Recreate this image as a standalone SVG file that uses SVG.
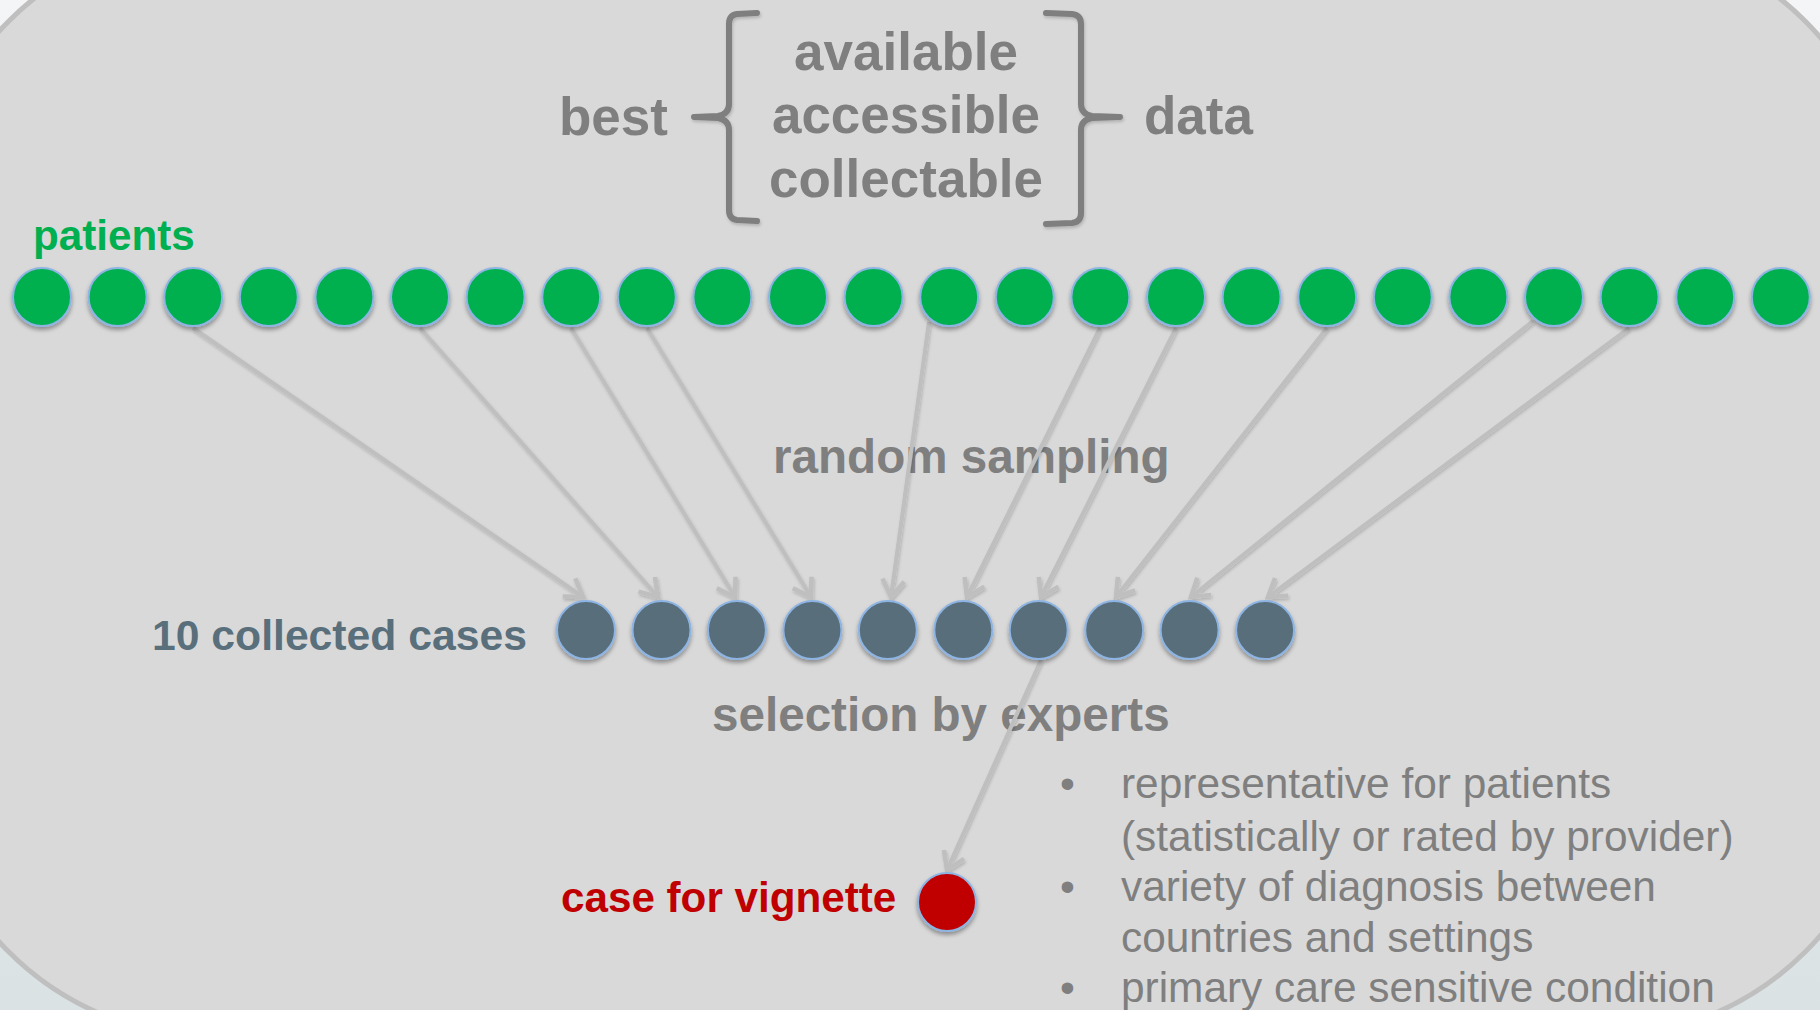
<svg xmlns="http://www.w3.org/2000/svg" width="1820" height="1010" viewBox="0 0 1820 1010">
  <defs>
    <linearGradient id="page" x1="0" y1="0" x2="0" y2="1">
      <stop offset="0" stop-color="#f4f5f6"/>
      <stop offset="1" stop-color="#dae2e4"/>
    </linearGradient>
    <filter id="shadow" x="-30%" y="-30%" width="160%" height="170%">
      <feDropShadow dx="0" dy="3" stdDeviation="2" flood-color="#000" flood-opacity="0.35"/>
    </filter>
    <filter id="soft" x="-10%" y="-10%" width="120%" height="130%">
      <feDropShadow dx="1" dy="2" stdDeviation="1.5" flood-color="#000" flood-opacity="0.18"/>
    </filter>
    <marker id="arrow" markerUnits="userSpaceOnUse" markerWidth="30" markerHeight="30" viewBox="0 0 30 30" refX="26" refY="15" orient="auto">
      <path d="M9,4 L26,15 L9,26" fill="none" stroke="#bfbfbf" stroke-width="4.5" stroke-linejoin="miter"/>
    </marker>
    <style>
      .lbl { font-family: "Liberation Sans", Arial, sans-serif; font-weight: bold; }
      .gray { fill: #7f7f7f; }
      .body { font-family: "Liberation Sans", Arial, sans-serif; font-size: 42.4px; fill: #7f7f7f; }
      .patient { fill: #00b050; stroke: #8db4e2; stroke-width: 2; }
      .case { fill: #586e7a; stroke: #8db4e2; stroke-width: 2; }
      .vignette { fill: #c00000; stroke: #8db4e2; stroke-width: 2; }
      .brace { fill: none; stroke: #7f7f7f; stroke-width: 6; stroke-linecap: round; stroke-linejoin: round; }
      .link { fill: none; stroke: #bfbfbf; stroke-width: 4; marker-end: url(#arrow); }
    </style>
  </defs>

  <!-- page and rounded panel -->
  <rect x="0" y="0" width="1820" height="1010" fill="url(#page)"/>
  <rect x="-76" y="-64" width="1966" height="1101" rx="290" ry="290" fill="#d9d9d9" stroke="#bfbfbf" stroke-width="5"/>

  <!-- heading: best {available / accessible / collectable} data -->
  <g id="heading" class="lbl gray" font-size="53">
    <text x="559" y="135">best</text>
    <text x="906" y="70" text-anchor="middle">available</text>
    <text x="906" y="133" text-anchor="middle">accessible</text>
    <text x="906" y="197" text-anchor="middle">collectable</text>
    <text x="1144" y="134">data</text>
  </g>
  <g id="braces" filter="url(#soft)">
    <path class="brace" d="M757,13 L737,14 Q729,15 729,24 L729,104 Q729,114 718,116 L694,117 L718,118 Q729,120 729,130 L729,210 Q729,219 737,220 L757,221"/>
    <path class="brace" d="M1046,13 L1072,14 Q1081,15 1081,24 L1081,104 Q1081,114 1092,116 L1120,117 L1092,118 Q1081,120 1081,130 L1081,213 Q1081,222 1072,223 L1046,224"/>
  </g>

  <!-- row labels -->
  <text id="label-patients" class="lbl" x="33" y="250" font-size="42.2" fill="#00b050">patients</text>
  <text id="label-cases" class="lbl" x="152" y="650" font-size="42.7" fill="#5a6f7c">10 collected cases</text>
  <text id="label-sampling" class="lbl gray" x="773" y="473" font-size="47.6">random sampling</text>
  <text id="label-selection" class="lbl gray" x="712" y="731" font-size="47.6">selection by experts</text>
  <text id="label-vignette" class="lbl" x="561" y="912" font-size="42.2" fill="#c00000">case for vignette</text>

  <!-- selection criteria -->
  <g id="criteria" class="body">
    <text x="1060" y="798">•</text>
    <text x="1121" y="798">representative for patients</text>
    <text x="1121" y="851">(statistically or rated by provider)</text>
    <text x="1060" y="901">•</text>
    <text x="1121" y="901">variety of diagnosis between</text>
    <text x="1121" y="952">countries and settings</text>
    <text x="1060" y="1002">•</text>
    <text x="1121" y="1002">primary care sensitive condition</text>
  </g>

  <!-- connectors: sampled patients to collected cases, one case to the vignette -->
  <g id="connectors" filter="url(#soft)">
    <line class="link" x1="193" y1="328" x2="583" y2="597"/>
    <line class="link" x1="420" y1="328" x2="658" y2="597"/>
    <line class="link" x1="571" y1="328" x2="735" y2="597"/>
    <line class="link" x1="647" y1="328" x2="811" y2="597"/>
    <line class="link" x1="929" y1="322" x2="891" y2="597"/>
    <line class="link" x1="1100" y1="328" x2="967" y2="597"/>
    <line class="link" x1="1176" y1="328" x2="1041" y2="597"/>
    <line class="link" x1="1327" y1="328" x2="1116" y2="597"/>
    <line class="link" x1="1533" y1="321" x2="1191" y2="597"/>
    <line class="link" x1="1629" y1="328" x2="1268" y2="597"/>
    <line class="link" x1="1041" y1="660" x2="947" y2="870"/>
  </g>

  <!-- patients -->
  <g id="patients" filter="url(#shadow)">
    <circle id="p01" class="patient" cx="42" cy="297" r="29"/>
    <circle id="p02" class="patient" cx="117.6" cy="297" r="29"/>
    <circle id="p03" class="patient" cx="193.2" cy="297" r="29"/>
    <circle id="p04" class="patient" cx="268.8" cy="297" r="29"/>
    <circle id="p05" class="patient" cx="344.4" cy="297" r="29"/>
    <circle id="p06" class="patient" cx="420" cy="297" r="29"/>
    <circle id="p07" class="patient" cx="495.6" cy="297" r="29"/>
    <circle id="p08" class="patient" cx="571.2" cy="297" r="29"/>
    <circle id="p09" class="patient" cx="646.8" cy="297" r="29"/>
    <circle id="p10" class="patient" cx="722.4" cy="297" r="29"/>
    <circle id="p11" class="patient" cx="798" cy="297" r="29"/>
    <circle id="p12" class="patient" cx="873.6" cy="297" r="29"/>
    <circle id="p13" class="patient" cx="949.2" cy="297" r="29"/>
    <circle id="p14" class="patient" cx="1024.8" cy="297" r="29"/>
    <circle id="p15" class="patient" cx="1100.4" cy="297" r="29"/>
    <circle id="p16" class="patient" cx="1176" cy="297" r="29"/>
    <circle id="p17" class="patient" cx="1251.6" cy="297" r="29"/>
    <circle id="p18" class="patient" cx="1327.2" cy="297" r="29"/>
    <circle id="p19" class="patient" cx="1402.8" cy="297" r="29"/>
    <circle id="p20" class="patient" cx="1478.4" cy="297" r="29"/>
    <circle id="p21" class="patient" cx="1554" cy="297" r="29"/>
    <circle id="p22" class="patient" cx="1629.6" cy="297" r="29"/>
    <circle id="p23" class="patient" cx="1705.2" cy="297" r="29"/>
    <circle id="p24" class="patient" cx="1780.8" cy="297" r="29"/>
  </g>

  <!-- collected cases -->
  <g id="cases" filter="url(#shadow)">
    <circle id="c01" class="case" cx="586" cy="630" r="29"/>
    <circle id="c02" class="case" cx="661.5" cy="630" r="29"/>
    <circle id="c03" class="case" cx="736.9" cy="630" r="29"/>
    <circle id="c04" class="case" cx="812.4" cy="630" r="29"/>
    <circle id="c05" class="case" cx="887.8" cy="630" r="29"/>
    <circle id="c06" class="case" cx="963.3" cy="630" r="29"/>
    <circle id="c07" class="case" cx="1038.7" cy="630" r="29"/>
    <circle id="c08" class="case" cx="1114.2" cy="630" r="29"/>
    <circle id="c09" class="case" cx="1189.6" cy="630" r="29"/>
    <circle id="c10" class="case" cx="1265.1" cy="630" r="29"/>
  </g>

  <!-- case chosen for the vignette -->
  <g id="vignette" filter="url(#shadow)">
    <circle class="vignette" cx="947" cy="902" r="29"/>
  </g>
</svg>
